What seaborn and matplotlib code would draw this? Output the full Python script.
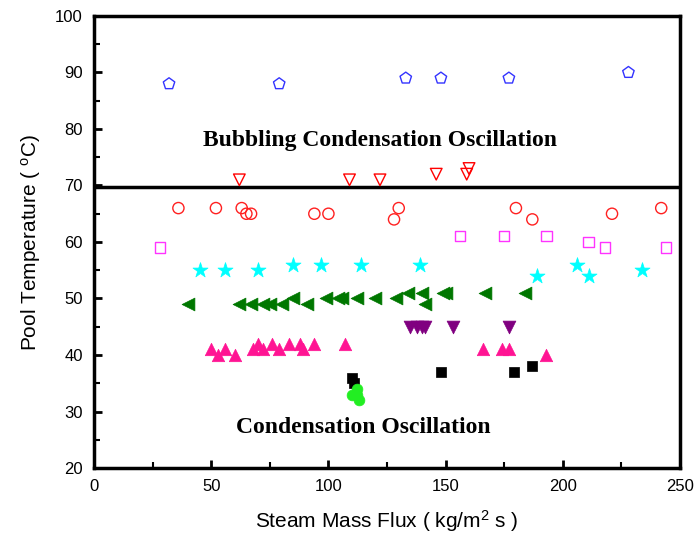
import matplotlib
matplotlib.use("Agg")
import matplotlib.pyplot as plt
import seaborn as sns
from matplotlib.ticker import MultipleLocator

# pentagons, bubbling condensation oscillation
pent_x = [32, 79, 133, 148, 177, 228]
pent_y = [88, 88, 89, 89, 89, 90]
# open down triangles
tri_dn_x = [62, 109, 122, 146, 159, 160]
tri_dn_y = [71, 71, 71, 72, 72, 73]
# open circles
circ_x = [36, 52, 63, 65, 67, 94, 100, 128, 130, 180, 187, 221, 242]
circ_y = [66, 66, 66, 65, 65, 65, 65, 64, 66, 66, 64, 65, 66]
# open squares
sq_x = [28, 156, 175, 193, 211, 218, 244]
sq_y = [59, 61, 61, 61, 60, 59, 59]
# stars
star_x = [45, 56, 70, 85, 97, 114, 139, 189, 206, 211, 234]
star_y = [55, 55, 55, 56, 56, 56, 56, 54, 56, 54, 55]
# filled left triangles
left_x = [40, 62, 67, 72, 75, 80, 85, 91, 99, 104, 106, 112, 120, 129, 134, 140, 141, 149, 150, 167, 184]
left_y = [49, 49, 49, 49, 49, 49, 50, 49, 50, 50, 50, 50, 50, 50, 51, 51, 49, 51, 51, 51, 51]
# filled down triangles
down_x = [135, 138, 140, 141, 153, 177]
down_y = [45, 45, 45, 45, 45, 45]
# filled up triangles
up_x = [50, 53, 56, 60, 68, 70, 72, 76, 79, 83, 88, 89, 94, 107, 166, 174, 177, 193]
up_y = [41, 40, 41, 40, 41, 42, 41, 42, 41, 42, 42, 41, 42, 42, 41, 41, 41, 40]
# filled squares
blk_x = [110, 111, 148, 179, 187]
blk_y = [36, 35, 37, 37, 38]
# filled circles
grn_x = [110, 112, 112, 113]
grn_y = [33, 33, 34, 32]

sns.set_style("ticks")
plt.rcParams['font.family'] = ['Liberation Sans', 'DejaVu Sans']
plt.rcParams['mathtext.default'] = 'regular'
plt.rcParams['text.color'] = 'black'
plt.rcParams['axes.labelcolor'] = 'black'

fig = plt.figure(figsize=(6.95, 5.38), dpi=100)
ax = fig.add_axes([0.1353, 0.1301, 0.8431, 0.8402])

open_sets = [
    (pent_x, pent_y, 'p', '#3333ff', 75),
    (tri_dn_x, tri_dn_y, 'v', '#ff0000', 70),
    (circ_x, circ_y, 'o', '#ff2020', 65),
    (sq_x, sq_y, 's', '#ff33ff', 55),
]
for xs, ys, m, c, s in open_sets:
    sns.scatterplot(x=xs, y=ys, marker=m, s=s, facecolor='none',
                    edgecolor=c, linewidth=1.0, ax=ax, zorder=3)

filled_sets = [
    (star_x, star_y, '*', '#00ffff', 130),
    (left_x, left_y, '<', '#007700', 85),
    (down_x, down_y, 'v', '#800080', 85),
    (up_x, up_y, '^', '#ff1493', 80),
    (blk_x, blk_y, 's', '#000000', 50),
    (grn_x, grn_y, 'o', '#22ee22', 60),
]
for xs, ys, m, c, s in filled_sets:
    sns.scatterplot(x=xs, y=ys, marker=m, s=s, color=c,
                    edgecolor=c, linewidth=0.5, ax=ax, zorder=3)

ax.axhline(69.7, color='black', lw=2.5, zorder=2)

ax.set_xlim(0, 250)
ax.set_ylim(20, 100)
ax.xaxis.set_major_locator(MultipleLocator(50))
ax.xaxis.set_minor_locator(MultipleLocator(25))
ax.yaxis.set_major_locator(MultipleLocator(10))
ax.yaxis.set_minor_locator(MultipleLocator(5))
ax.tick_params(which='major', direction='in', length=6, width=2, color='black',
               labelcolor='black', labelsize=12, pad=8, top=False, right=False)
ax.tick_params(which='minor', direction='in', length=4, width=1.5, color='black',
               top=False, right=False)
for sp in ax.spines.values():
    sp.set_linewidth(2.5)
    sp.set_color('black')

ax.set_xlabel('Steam Mass Flux ( kg/m$^{2}$ s )', fontsize=15, labelpad=10)
ax.set_ylabel('Pool Temperature ( $^{o}$C)', fontsize=15, labelpad=9)

ax.text(122, 78, 'Bubbling Condensation Oscillation', ha='center', va='center',
        fontsize=17, fontweight='bold', family='Liberation Serif')
ax.text(115, 27.1, 'Condensation Oscillation', ha='center', va='center',
        fontsize=17, fontweight='bold', family='Liberation Serif')

fig.savefig('out.png', dpi=100)
